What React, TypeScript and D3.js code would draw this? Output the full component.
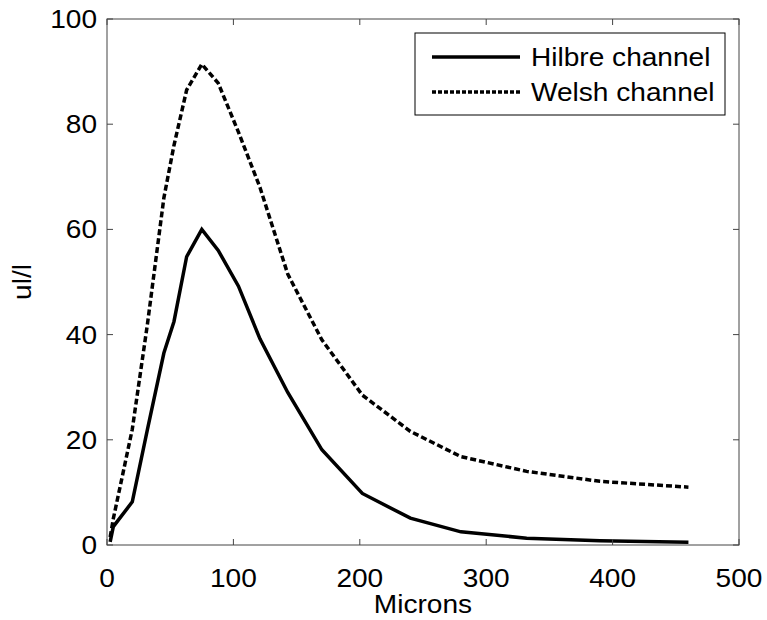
import React from 'react';
import * as d3 from 'd3';

// grain size bins (microns) and volume concentrations (ul/l)
const microns = [2.5, 5, 20, 32, 45, 53, 63, 75, 88, 104, 121, 143, 170, 202, 240, 280, 332, 390, 460];
const hilbre = [0.6, 3.5, 8.2, 22, 36.5, 42.5, 54.8, 60, 56, 49.2, 39.2, 29, 18.1, 9.8, 5.1, 2.5, 1.3, 0.8, 0.5];
const welsh = [1.5, 5, 22, 42, 66, 76, 86.5, 91.4, 87.8, 78.5, 68, 51.5, 39, 28.5, 21.6, 16.8, 14, 12.1, 11];

const xTicks = [0, 100, 200, 300, 400, 500];
const yTicks = [0, 20, 40, 60, 80, 100];

const seriesNames = ['Hilbre channel', 'Welsh channel'];

const W = 767;
const H = 620;
const font = 'Liberation Sans, Arial, sans-serif';
const stretch = 1.08; // the source text is a bit wider than Arial

function Label({ x, y, anchor = 'start', rotate = 0, children }: any) {
  return (
    <text
      transform={`translate(${x},${y}) rotate(${rotate}) scale(${stretch},1)`}
      textAnchor={anchor}
      fontSize={26}
      fill="#000"
    >
      {children}
    </text>
  );
}

export default function App() {
  const x = d3.scaleLinear().domain([0, 500]).range([107, 739]);
  const y = d3.scaleLinear().domain([0, 100]).range([545, 19]);

  const line = d3
    .line<number>()
    .x((_, i) => x(microns[i]))
    .y((d) => y(d));

  const axisColor = '#444';
  const tick = 6;

  return (
    <svg
      width={W}
      height={H}
      style={{ position: 'absolute', left: 0, top: 0, background: '#fff' }}
      fontFamily={font}
    >
      <rect x={0} y={0} width={W} height={H} fill="#fff" />

      {/* data */}
      <path d={line(hilbre) || ''} fill="none" stroke="#000" strokeWidth={3.5} />
      <path d={line(welsh) || ''} fill="none" stroke="#000" strokeWidth={3.5} strokeDasharray="6,3" />

      {/* axes box */}
      <rect
        x={x(0)}
        y={y(100)}
        width={x(500) - x(0)}
        height={y(0) - y(100)}
        fill="none"
        stroke={axisColor}
        strokeWidth={1}
      />

      {xTicks.map((t) => (
        <g key={'x' + t}>
          <line x1={x(t)} x2={x(t)} y1={y(0)} y2={y(0) - tick} stroke={axisColor} />
          <line x1={x(t)} x2={x(t)} y1={y(100)} y2={y(100) + tick} stroke={axisColor} />
          <Label x={x(t)} y={y(0) + 42} anchor="middle">
            {t}
          </Label>
        </g>
      ))}

      {yTicks.map((t) => (
        <g key={'y' + t}>
          <line x1={x(0)} x2={x(0) + tick} y1={y(t)} y2={y(t)} stroke={axisColor} />
          <line x1={x(500)} x2={x(500) - tick} y1={y(t)} y2={y(t)} stroke={axisColor} />
          <Label x={x(0) - 10} y={y(t) + 9} anchor="end">
            {t}
          </Label>
        </g>
      ))}

      {/* axis titles */}
      <Label x={(x(0) + x(500)) / 2} y={613} anchor="middle">
        Microns
      </Label>
      <Label x={31} y={(y(0) + y(100)) / 2} anchor="middle" rotate={-90}>
        ul/l
      </Label>

      {/* legend */}
      <g>
        <rect x={415} y={33} width={310} height={82} fill="#fff" stroke="#000" strokeWidth={1} />
        {seriesNames.map((name, i) => {
          const ly = 57 + i * 35;
          return (
            <g key={name}>
              <line
                x1={432}
                x2={520}
                y1={ly}
                y2={ly}
                stroke="#000"
                strokeWidth={3.5}
                strokeDasharray={i === 1 ? '4,2' : undefined}
              />
              <Label x={531} y={ly + 9}>
                {name}
              </Label>
            </g>
          );
        })}
      </g>
    </svg>
  );
}
